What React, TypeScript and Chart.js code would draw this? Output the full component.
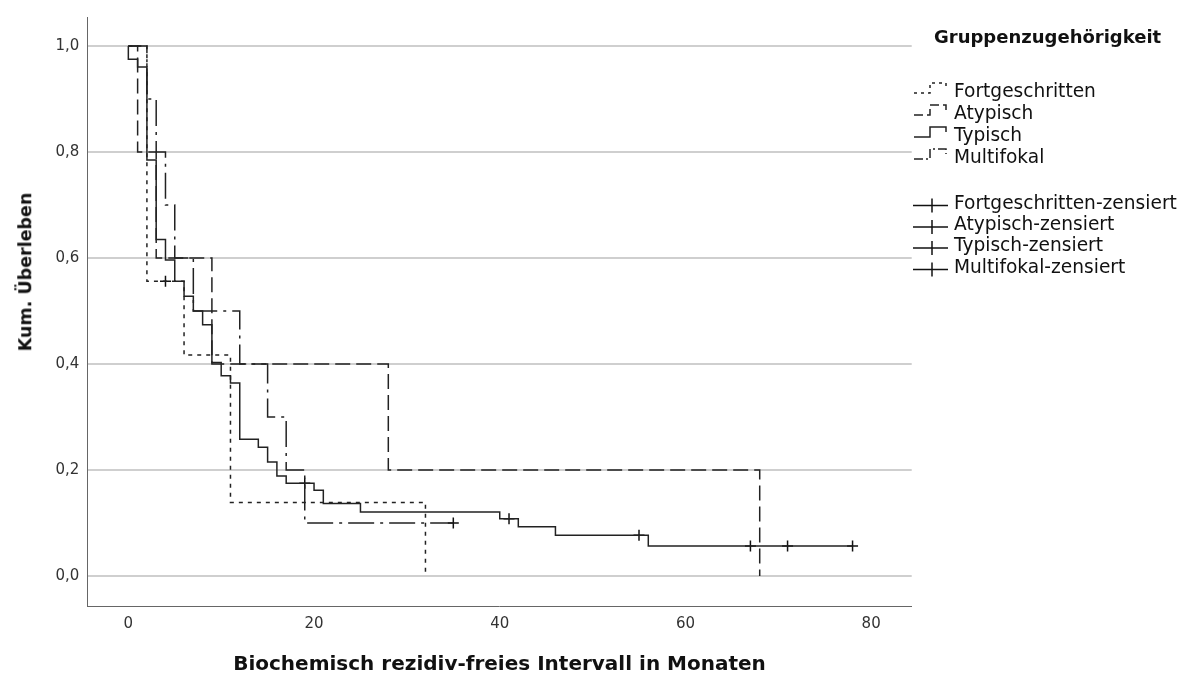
import React, { useEffect, useRef } from "react";
import { Chart, registerables } from "chart.js";

Chart.register(...registerables);

// ---------- data ----------
const seriesNames = ["Fortgeschritten", "Atypisch", "Typisch", "Multifokal"];
const legendTitle = "Gruppenzugehörigkeit";
const xTitle = "Biochemisch rezidiv-freies Intervall in Monaten";
const yTitle = "Kum. Überleben";

const xTickValues = [0, 20, 40, 60, 80];
const yTickValues = [0, 0.2, 0.4, 0.6, 0.8, 1.0];

const fortTimes = [0, 2, 6, 11, 32];
const fortSurv = [1, 0.556, 0.417, 0.139, 0];
const fortCensTimes = [4];
const fortCensSurv = [0.556];

const atypTimes = [0, 1, 3, 9, 28, 68];
const atypSurv = [1, 0.8, 0.6, 0.4, 0.2, 0];
const atypCensTimes: number[] = [];
const atypCensSurv: number[] = [];

const typTimes = [0, 0, 1, 2, 3, 4, 5, 6, 7, 8, 9, 10, 11, 12, 14, 15, 16, 17, 20, 21, 25, 40, 42, 46, 56, 78];
const typSurv = [1, 0.975, 0.96, 0.785, 0.635, 0.596, 0.556, 0.528, 0.5, 0.474, 0.403, 0.378, 0.364, 0.258, 0.243, 0.215, 0.189, 0.175, 0.162, 0.137, 0.121, 0.108, 0.093, 0.077, 0.057, 0.057];
const typCensTimes = [19, 41, 55, 67, 71, 78];
const typCensSurv = [0.175, 0.108, 0.077, 0.057, 0.057, 0.057];

const multTimes = [0, 2, 3, 4, 5, 7, 12, 15, 17, 19, 35];
const multSurv = [1, 0.9, 0.8, 0.7, 0.6, 0.5, 0.4, 0.3, 0.2, 0.1, 0.1];
const multCensTimes = [35];
const multCensSurv = [0.1];

// ---------- styles ----------
const LINE_COLOR = "#222";
const FONT = "'DejaVu Sans', sans-serif";
const dashes: number[][] = [[4, 5], [15, 6], [], [26, 6, 3, 6]];
const iconDashes: string[] = ["3 4", "9 4", "", "9 3 2 3"];

const toPts = (t: number[], s: number[]) => t.map((x, i) => ({ x, y: s[i] }));

export default function App() {
  const ref = useRef<HTMLCanvasElement | null>(null);

  useEffect(() => {
    if (!ref.current) return;
    const lines = [
      toPts(fortTimes, fortSurv),
      toPts(atypTimes, atypSurv),
      toPts(typTimes, typSurv),
      toPts(multTimes, multSurv),
    ];
    const cens = [
      toPts(fortCensTimes, fortCensSurv),
      toPts(atypCensTimes, atypCensSurv),
      toPts(typCensTimes, typCensSurv),
      toPts(multCensTimes, multCensSurv),
    ];
    const datasets: any[] = [];
    lines.forEach((d, i) => {
      datasets.push({
        label: seriesNames[i],
        data: d,
        showLine: true,
        stepped: true,
        borderColor: LINE_COLOR,
        borderWidth: 1.5,
        borderDash: dashes[i],
        pointRadius: 0,
        pointHoverRadius: 0,
        fill: false,
      });
    });
    cens.forEach((d, i) => {
      datasets.push({
        label: seriesNames[i] + "-zensiert",
        data: d,
        showLine: false,
        pointStyle: "cross",
        pointRadius: 5.5,
        pointHoverRadius: 5.5,
        borderColor: "#111",
        borderWidth: 1.5,
        backgroundColor: "#111",
      });
    });

    const chart = new Chart(ref.current, {
      type: "scatter",
      data: { datasets },
      options: {
        responsive: false,
        animation: false,
        events: [],
        layout: { padding: { left: 0, top: 15, right: 276.3, bottom: 0 } },
        plugins: { legend: { display: false }, tooltip: { enabled: false } },
        scales: {
          x: {
            type: "linear",
            min: -4.42,
            max: 84.37,
            afterBuildTicks: (s: any) => {
              s.ticks = xTickValues.map((v) => ({ value: v }));
            },
            afterFit: (s: any) => {
              s.height = 69;
            },
            ticks: {
              autoSkip: false,
              maxRotation: 0,
              padding: 9,
              color: "#333",
              font: { family: FONT, size: 15 },
              callback: (v: any) => String(v),
            },
            grid: { display: true, drawOnChartArea: false, drawTicks: false },
            border: { display: true, color: "#666", width: 1 },
          },
          y: {
            type: "linear",
            min: -0.0564,
            max: 1.0545,
            afterBuildTicks: (s: any) => {
              s.ticks = yTickValues.map((v) => ({ value: v }));
            },
            afterFit: (s: any) => {
              s.width = 87.3;
            },
            ticks: {
              autoSkip: false,
              padding: 8,
              color: "#333",
              font: { family: FONT, size: 15 },
              callback: (v: any) => Number(v).toFixed(1).replace(".", ","),
            },
            grid: { display: true, drawTicks: false, color: "#cfcfcf", lineWidth: 2 },
            border: { display: true, color: "#666", width: 1 },
          },
        },
      } as any,
    });
    return () => chart.destroy();
  }, []);

  const lineCapTops = [84, 106, 128, 150];
  const censCapTops = [196, 217.5, 238.5, 260];
  const textLeft = 954;
  const legendSize = 18.6;

  return (
    <div style={{ position: "fixed", left: 0, top: 0, width: 1188, height: 675, background: "#fff", overflow: "hidden" }}>
      <canvas ref={ref} width={1188} height={675} style={{ position: "absolute", left: 0, top: 0, width: 1188, height: 675 }} />
      {/* y axis title */}
      <div
        style={{
          position: "absolute",
          left: 26.2,
          top: 271.5,
          transform: "translate(-50%, -50%) rotate(-90deg)",
          font: `bold 17.5px ${FONT}`,
          lineHeight: "17.5px",
          whiteSpace: "nowrap",
          color: "#111",
        }}
      >
        {yTitle}
      </div>
      {/* x axis title */}
      <div
        style={{
          position: "absolute",
          left: 499.5,
          top: 653,
          transform: "translateX(-50%)",
          font: `bold 20px ${FONT}`,
          lineHeight: "20px",
          whiteSpace: "nowrap",
          color: "#111",
        }}
      >
        {xTitle}
      </div>
      {/* legend */}
      <div
        style={{
          position: "absolute",
          left: 934,
          top: 28,
          font: `bold 18px ${FONT}`,
          lineHeight: "18px",
          whiteSpace: "nowrap",
          color: "#111",
        }}
      >
        {legendTitle}
      </div>
      {seriesNames.map((n, i) => (
        <div
          key={"l" + i}
          style={{
            position: "absolute",
            left: textLeft,
            top: lineCapTops[i] - 2.2,
            font: `${legendSize}px ${FONT}`,
            lineHeight: `${legendSize}px`,
            whiteSpace: "nowrap",
            color: "#111",
          }}
        >
          {n}
        </div>
      ))}
      {seriesNames.map((n, i) => (
        <div
          key={"c" + i}
          style={{
            position: "absolute",
            left: textLeft,
            top: censCapTops[i] - 2.2,
            font: `${legendSize}px ${FONT}`,
            lineHeight: `${legendSize}px`,
            whiteSpace: "nowrap",
            color: "#111",
          }}
        >
          {n + "-zensiert"}
        </div>
      ))}
      <svg width={1188} height={675} style={{ position: "absolute", left: 0, top: 0, pointerEvents: "none" }}>
        {lineCapTops.map((c, i) => (
          <path
            key={"li" + i}
            d={`M914 ${c + 9} H930 V${c - 1} H946 V${c + 4}`}
            fill="none"
            stroke={LINE_COLOR}
            strokeWidth={1.5}
            strokeDasharray={iconDashes[i] || undefined}
          />
        ))}
        {censCapTops.map((c, i) => (
          <g key={"ci" + i} stroke="#111" strokeWidth={1.5}>
            <path d={`M913 ${c + 9.5} H948`} />
            <path d={`M932 ${c + 2.5} V${c + 16.5}`} />
          </g>
        ))}
      </svg>
    </div>
  );
}
